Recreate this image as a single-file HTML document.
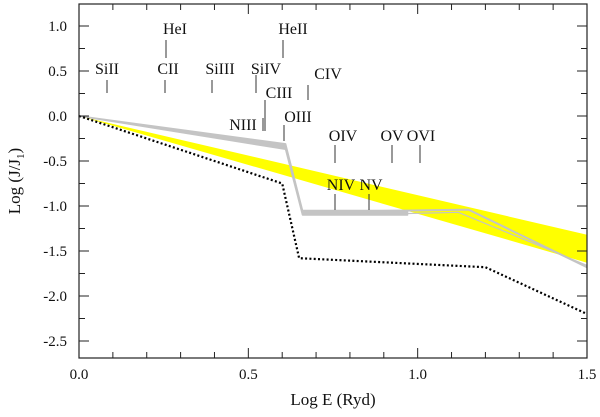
<!DOCTYPE html>
<html><head><meta charset="utf-8"><style>
body{margin:0;background:#fff}
svg text{font-family:"Liberation Serif",serif;fill:#111}
</style></head><body>
<svg id="chart" width="600" height="412" viewBox="0 0 600 412" xmlns="http://www.w3.org/2000/svg">
<g id="marks"></g>
<g id="ions"></g>
<g id="axes"></g>
</svg>
<script>
const xTicks=[0.0,0.5,1.0,1.5];
const xTickLabels=["0.0","0.5","1.0","1.5"];
const yTicks=[1.0,0.5,0.0,-0.5,-1.0,-1.5,-2.0,-2.5];
const yTickLabels=["1.0","0.5","0.0","-0.5","-1.0","-1.5","-2.0","-2.5"];
const dottedX=[0,0.6,0.65,1.2,1.5];
const dottedY=[0,-0.75,-1.58,-1.68,-2.2];
const bandX=[0,1.5];
const bandUpper=[0,-1.32];
const bandLower=[0,-1.63];
const grayThickX=[0,0.61,0.66,0.97];
const grayThickUpper=[0,-0.31,-1.05,-1.05];
const grayThickLower=[0,-0.37,-1.1,-1.1];
const grayThinX=[0.61,0.66,1.15,1.5];
const grayThinY=[-0.34,-1.07,-1.04,-1.68];
const grayThin2X=[0.9,1.12,1.5];
const grayThin2Y=[-1.09,-1.07,-1.66];
const ions=["SiII","HeI","CII","SiIII","SiIV","HeII","CIII","NIII","OIII","CIV","OIV","OV","OVI","NIV","NV"];
const ionLabelX=[107,175,168,220,266,293,279,243,298,328,343,392,421,341,371];
const ionLabelY=[74,34,74,74,74,34,98,130,122,79,141,141,141,190,190];
const ionLineX=[107,166,165,212,256,283,265,263,284,308,335,392,420,335,369];
const ionLineTop=[80,40,80,80,75,40,100,118,125,85,145,145,145,194,194];
const ionLineBot=[93,58,93,93,93,58,131,131,141,100,163,163,163,210,210];

const L=79,R=587,T=4,B=358;
const xs=v=>L+(v-0)/1.5*(R-L);
const ys=v=>116-v*90;
const NS="http://www.w3.org/2000/svg";
function mk(tag,parent,attrs){const e=document.createElementNS(NS,tag);for(const k in attrs)e.setAttribute(k,attrs[k]);parent.appendChild(e);return e;}
const marks=document.getElementById('marks'),ax=document.getElementById('axes'),ig=document.getElementById('ions');

let pts=bandX.map((x,i)=>xs(x)+','+ys(bandUpper[i])).concat(bandX.slice().reverse().map((x,i)=>xs(x)+','+ys(bandLower[bandX.length-1-i])));
let band=mk('polygon',marks,{points:pts.join(' '),fill:'#ffff00'});



pts=grayThickX.map((x,i)=>xs(x)+','+ys(grayThickUpper[i])).concat(grayThickX.slice().reverse().map((x,i)=>xs(x)+','+ys(grayThickLower[grayThickX.length-1-i])));
let gt=mk('polygon',marks,{points:pts.join(' '),fill:'#c4c4c4',stroke:'#c4c4c4','stroke-width':1.5,'stroke-linejoin':'round'});



let g1=mk('polyline',marks,{points:grayThinX.map((x,i)=>xs(x)+','+ys(grayThinY[i])).join(' '),fill:'none',stroke:'#c4c4c4','stroke-width':2});


let g2=mk('polyline',marks,{points:grayThin2X.map((x,i)=>xs(x)+','+ys(grayThin2Y[i])).join(' '),fill:'none',stroke:'#c4c4c4','stroke-width':1.2});



let dl=mk('polyline',marks,{points:dottedX.map((x,i)=>xs(x)+','+ys(dottedY[i])).join(' '),fill:'none',stroke:'#000','stroke-width':2.2,'stroke-dasharray':'2 2.3'});



ions.forEach((n,i)=>{
  const t=mk('text',ig,{x:ionLabelX[i],y:ionLabelY[i],'text-anchor':'middle','font-size':16});
  t.textContent=n;
  
  
  const l=mk('line',ig,{x1:ionLineX[i],x2:ionLineX[i],y1:ionLineTop[i],y2:ionLineBot[i],stroke:'#333','stroke-width':1});
  
  
});

const frame=mk('rect',ax,{x:L,y:T,width:R-L,height:B-T,fill:'none',stroke:'#222','stroke-width':1.2});


for(let k=0;k<=15;k++){const v=k/10,maj=(k%5===0),len=maj?10:6,x=xs(v);
  mk('line',ax,{x1:x,x2:x,y1:B,y2:B-len,stroke:'#222'});
  mk('line',ax,{x1:x,x2:x,y1:T,y2:T+len,stroke:'#222'});}
for(let k=-10;k<=4;k++){const v=k*0.25;const y=ys(v);if(y<T||y>B)continue;const maj=(k%2===0),len=maj?10:6;
  mk('line',ax,{x1:L,x2:L+len,y1:y,y2:y,stroke:'#222'});
  mk('line',ax,{x1:R,x2:R-len,y1:y,y2:y,stroke:'#222'});}
xTicks.forEach((v,i)=>{const t=mk('text',ax,{x:xs(v),y:379,'text-anchor':'middle','font-size':15});t.textContent=xTickLabels[i];
  
  });
yTicks.forEach((v,i)=>{const t=mk('text',ax,{x:67,y:ys(v)+5,'text-anchor':'end','font-size':15});t.textContent=yTickLabels[i];
  
  });
const xt=mk('text',ax,{x:333,y:405,'text-anchor':'middle','font-size':17});xt.textContent='Log E (Ryd)';


const yt=mk('text',ax,{x:0,y:0,'text-anchor':'middle','font-size':17,transform:'translate(20,181) rotate(-90)'});
yt.innerHTML='Log (J/J<tspan font-size="11" dy="4">1</tspan><tspan dy="-4">)</tspan>';


</script>
</body></html>
